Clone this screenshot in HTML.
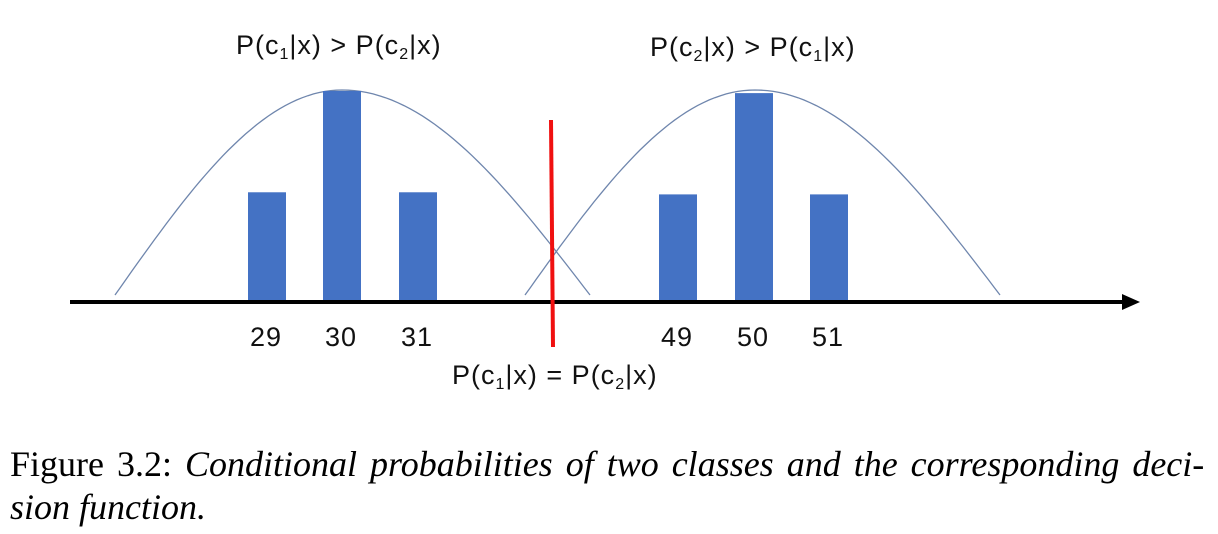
<!DOCTYPE html>
<html><head><meta charset="utf-8"><style>
body{margin:0;background:#fff;width:1218px;height:534px;overflow:hidden;position:relative}
.lbl{position:absolute;font-family:"Liberation Sans",sans-serif;font-size:27px;color:#111;white-space:nowrap;line-height:1;letter-spacing:1px}
.lbl sub{font-size:16px;vertical-align:-5px}
.cap{position:absolute;left:10px;font-family:"Liberation Serif",serif;font-size:36px;color:#000;white-space:nowrap;line-height:1}
</style></head><body>
<svg width="1218" height="400" style="position:absolute;left:0;top:0">
<g id="curves"></g><g id="bars"></g>
<line x1="70" y1="302" x2="1125" y2="302" stroke="#000" stroke-width="4"/>
<polygon points="1122,294 1140,302 1122,310" fill="#000"/>
<line x1="551" y1="120" x2="553" y2="347" stroke="#f01010" stroke-width="4"/>
</svg>
<div class="lbl" style="left:236px;top:32px">P(c<sub>1</sub>|x) &gt; P(c<sub>2</sub>|x)</div>
<div class="lbl" style="left:650px;top:34px">P(c<sub>2</sub>|x) &gt; P(c<sub>1</sub>|x)</div>
<div class="lbl" style="left:452px;top:362px">P(c<sub>1</sub>|x) = P(c<sub>2</sub>|x)</div>
<div id="ticks"></div>
<div class="cap" style="top:446px;word-spacing:4px">Figure 3.2: <i>Conditional probabilities of two classes and the corresponding deci-</i></div>
<div class="cap" style="top:489px"><i>sion function.</i></div>
<script>
const categories=["29","30","31","49","50","51"];
const values=[0.52,1.0,0.52,0.51,0.99,0.51];
const barCenters=[267,342,418,678,754,829];
const curvePeaks=[342,755];
const baseY=302, scaleH=211;
const y=v=>baseY-v*scaleH;
const ns="http://www.w3.org/2000/svg";
const bars=document.getElementById('bars');
categories.forEach((c,i)=>{
 const r=document.createElementNS(ns,'rect');
 r.setAttribute('x',barCenters[i]-19);r.setAttribute('width',38);
 r.setAttribute('y',y(values[i]));r.setAttribute('height',baseY-y(values[i]));
 r.setAttribute('fill','#4472c4');
 
 
 bars.appendChild(r);
 const t=document.createElement('div');t.className='lbl';
 t.style.left=(barCenters[i]-17)+'px';t.style.top='324px';t.textContent=c;
 
 
 document.getElementById('ticks').appendChild(t);
});
const cg=document.getElementById('curves');
curvePeaks.forEach((p,i)=>{
 const hw=i==0?[227,248]:[230,245];
 let d='';
 for(let k=0;k<=80;k++){
  const t=-1+2*k/80;const x=p+(t<0?t*hw[0]:t*hw[1]);
  const yy=295-205*Math.cos(t*Math.PI/2);
  d+=(k?'L':'M')+x.toFixed(1)+','+yy.toFixed(1);
 }
 const pa=document.createElementNS(ns,'path');
 pa.setAttribute('d',d);pa.setAttribute('fill','none');pa.setAttribute('stroke','#6f86ad');pa.setAttribute('stroke-width','1.3');
 
 
 cg.appendChild(pa);
});
</script>
</body></html>
